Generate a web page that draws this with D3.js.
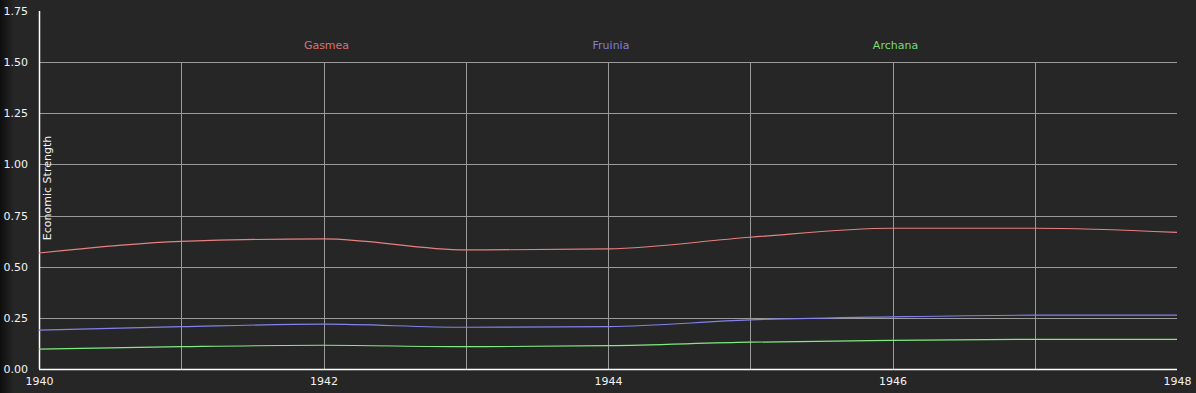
<!DOCTYPE html>
<html><head><meta charset="utf-8">
<script src="https://cdn.jsdelivr.net/npm/d3@7"></script>
<style>html,body{margin:0;padding:0;background:#262626;overflow:hidden}</style>
</head><body>
<svg id="c" width="1196" height="393"></svg>
<script>
const years = [1940,1941,1942,1943,1944,1945,1946,1947,1948];
const gasmea  = [0.567,0.624,0.636,0.582,0.587,0.644,0.688,0.688,0.668];
const fruinia = [0.190,0.207,0.219,0.204,0.207,0.240,0.255,0.263,0.263];
const archana = [0.097,0.109,0.116,0.109,0.114,0.131,0.140,0.145,0.145];
const seriesNames = ["Gasmea","Fruinia","Archana"];
const legendYears = [1942,1944,1946];
const yTicks = [0,0.25,0.5,0.75,1.0,1.25,1.5,1.75];
const xTicks = [1940,1942,1944,1946,1948];
const gridYears = [1941,1942,1943,1944,1945,1946,1947];
const colors = ["#e88080","#8282ea","#80ea80"];
const textColors = ["#d87272","#7f7fdd","#78dd78"];

(function(){
const svg = d3.select("#c");
const W=1196,H=393;
const mLeft=39,mRight=1177,mTop=11,mBottom=369;
const x = d3.scaleLinear().domain([1940,1948]).range([mLeft,mRight]);
const y = d3.scaleLinear().domain([0,1.75]).range([mBottom,mTop]);

const defs = svg.append("defs");
const g = defs.append("linearGradient").attr("id","lg").attr("x1",0).attr("x2",1).attr("y1",0).attr("y2",0);
g.append("stop").attr("offset","0").attr("stop-color","#0e0e0e");
g.append("stop").attr("offset","1").attr("stop-color","#262626");
svg.append("rect").attr("width",W).attr("height",H).attr("fill","#262626");
svg.append("rect").attr("width",14).attr("height",H).attr("fill","url(#lg)");

// grid
svg.append("g").selectAll("line").data(yTicks.filter(d=>d>0 && d<1.75)).join("line")
  .attr("x1",mLeft).attr("x2",mRight).attr("y1",d=>Math.round(y(d))+0.5).attr("y2",d=>Math.round(y(d))+0.5)
  .attr("stroke","#9a9a9a").attr("stroke-width",1);
svg.append("g").selectAll("line").data(gridYears).join("line")
  .attr("x1",d=>Math.round(x(d))+0.5).attr("x2",d=>Math.round(x(d))+0.5).attr("y1",Math.round(y(1.5))).attr("y2",mBottom)
  .attr("stroke","#9a9a9a").attr("stroke-width",1);

// axes
const yAxis = d3.axisLeft(y).tickValues(yTicks).tickFormat(d3.format(".2f")).tickSize(0).tickPadding(11);
const ya = svg.append("g").attr("transform",`translate(${mLeft},0)`).call(yAxis);
const xAxis = d3.axisBottom(x).tickValues(xTicks).tickFormat(d3.format("d")).tickSize(0).tickPadding(8);
const xa = svg.append("g").attr("transform",`translate(0,${mBottom})`).call(xAxis);
[ya,xa].forEach(a=>{
  a.select(".domain").attr("stroke","#ffffff").attr("stroke-width",1.5);
  a.selectAll("text").attr("fill","#f2f2f2").attr("font-family","DejaVu Sans").attr("font-size",11);
});
ya.select(".domain").attr("d",`M0.5,${mTop}V${mBottom}`);
xa.select(".domain").attr("d",`M${mLeft},0.5H${mRight}`);

// axis title
svg.append("text").attr("transform",`translate(51,188) rotate(-90)`)
  .attr("text-anchor","middle").attr("fill","#f4f4f4")
  .attr("font-family","DejaVu Sans").attr("font-size",11).text("Economic Strength");

// lines
const data = [gasmea,fruinia,archana];
const line = d3.line().x((d,i)=>x(years[i])).y(d=>y(d)).curve(d3.curveMonotoneX);
svg.append("g").selectAll("path").data(data).join("path")
  .attr("d",line).attr("fill","none").attr("stroke",(d,i)=>colors[i]).attr("stroke-width",1.2);

// legend
svg.append("g").selectAll("text").data(seriesNames).join("text")
  .attr("x",(d,i)=>x(legendYears[i])+3).attr("y",49).attr("text-anchor","middle")
  .attr("fill",(d,i)=>textColors[i]).attr("font-family","DejaVu Sans").attr("font-size",11)
  .text(d=>d);
})();
</script>
</body></html>
